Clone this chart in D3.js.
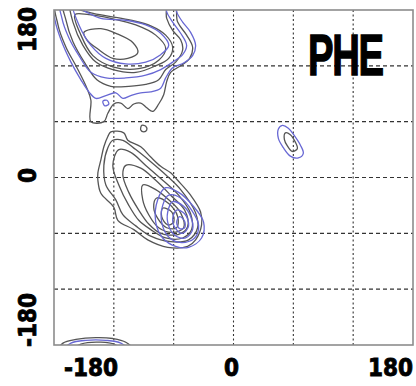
<!DOCTYPE html>
<html>
<head>
<meta charset="utf-8">
<script src="https://cdn.jsdelivr.net/npm/d3@7"></script>
<style>
  html, body { margin: 0; padding: 0; background: #fff; }
  svg { display: block; }
</style>
</head>
<body>
<svg id="chart" width="416" height="386"></svg>
<script>
// Ramachandran plot for PHE: phi (x) vs psi (y), contour rings in degrees.
const residue = "PHE";
const phiLabels = [-180, 0, 180];
const psiLabels = [-180, 0, 180];
const gridValues = [-120, -60, 0, 60, 120];

// beta / PPII region (upper left), gray contour set
const betaGray = [
  [[-177,191],[-176,164],[-168,140],[-157,118],[-147,96],[-143,83],[-143,60],[-130,60],[-126,69],[-120,79],[-113,80],[-106,74],[-100,79],[-93,80],[-87,75],[-81,71],[-75,79],[-70,89],[-67,103],[-63,113],[-53,120],[-44,128],[-41,140],[-47,153],[-56,167],[-61,191]],
  [[-170,191],[-168,169],[-161,146],[-149,123],[-137,105],[-123,98],[-105,98],[-88,100],[-75,105],[-68,116],[-58,124],[-51,137],[-53,148],[-61,158],[-67,171],[-70,191]],
  [[-165,191],[-161,167],[-151,142],[-138,124],[-121,116],[-98,113],[-78,120],[-65,128],[-61,140],[-68,153],[-83,163],[-103,169],[-123,173],[-143,177],[-158,182]],
  [[-159,175],[-153,153],[-141,131],[-121,119],[-95,117],[-75,126],[-68,139],[-78,153],[-98,164],[-123,171],[-145,175]],
  [[-150,156],[-133,160],[-116,154],[-101,145],[-96,134],[-106,128],[-121,128],[-136,138],[-147,148]],
  [[-92,56],[-88,55],[-87,51],[-90,49],[-93,51]]
];
// beta region, blue contour set
const betaBlue = [
  [[-180,191],[-179,169],[-173,148],[-163,124],[-153,105],[-145,92],[-138,85],[-128,88],[-118,91],[-111,85],[-103,88],[-93,91],[-83,92],[-73,96],[-68,107],[-61,118],[-50,123],[-41,131],[-38,142],[-43,156],[-51,167],[-57,178],[-59,191]],
  [[-173,191],[-172,171],[-165,150],[-155,131],[-143,113],[-128,107],[-108,107],[-88,110],[-73,116],[-61,124],[-51,132],[-47,142],[-53,155],[-61,167],[-67,178],[-68,191]],
  [[-161,185],[-155,164],[-143,142],[-128,128],[-108,122],[-88,124],[-73,132],[-65,142],[-73,155],[-88,164],[-108,169],[-133,171],[-148,178]],
  [[-131,82],[-127,83],[-125,79],[-129,77]]
];
// right-handed helix region, gray set
const alphaGray = [
  [[-123,49],[-110,48],[-106,40],[-93,33],[-83,22],[-73,12],[-63,5],[-56,-3],[-43,-19],[-33,-37],[-32,-51],[-38,-67],[-46,-74],[-66,-75],[-86,-67],[-100,-56],[-116,-46],[-120,-32],[-133,-17],[-136,-3],[-136,5],[-133,19],[-130,33],[-126,44]],
  [[-121,40],[-111,40],[-98,30],[-83,17],[-68,3],[-53,-13],[-38,-38],[-36,-54],[-45,-67],[-63,-69],[-83,-63],[-98,-52],[-111,-40],[-118,-24],[-128,-8],[-130,13],[-126,32]],
  [[-115,30],[-103,27],[-88,13],[-73,-1],[-55,-19],[-43,-39],[-42,-56],[-51,-65],[-68,-65],[-83,-56],[-95,-46],[-105,-30],[-115,-8],[-121,13]],
  [[-108,13],[-93,10],[-78,-3],[-63,-19],[-49,-35],[-46,-53],[-55,-61],[-73,-60],[-85,-50],[-95,-35],[-105,-16],[-111,3]],
  [[-91,-8],[-78,-13],[-65,-24],[-53,-38],[-50,-54],[-61,-59],[-75,-54],[-85,-40],[-91,-24]],
  [[-77,-22],[-65,-28],[-56,-42],[-57,-54],[-67,-54],[-76,-44],[-80,-32]],
  [[-71,-33],[-62,-37],[-60,-48],[-66,-51],[-72,-42]]
];
// right-handed helix region, blue set
const alphaBlue = [
  [[-68,-11],[-55,-16],[-41,-30],[-30,-48],[-32,-65],[-45,-75],[-58,-74],[-71,-65],[-78,-48],[-76,-24]],
  [[-65,-19],[-53,-22],[-42,-35],[-35,-51],[-39,-65],[-52,-70],[-65,-64],[-72,-48],[-71,-30]],
  [[-61,-26],[-50,-31],[-43,-42],[-41,-56],[-48,-65],[-59,-62],[-66,-48],[-65,-33]],
  [[-57,-35],[-49,-39],[-45,-52],[-51,-60],[-58,-55],[-61,-44]],
  [[-54,-42],[-49,-47],[-49,-54],[-54,-55],[-57,-48]]
];
// left-handed helix region
const leftGray = [
  [[52,48],[57,46],[62,38],[64,31],[59,28],[54,34],[51,41]]
];
const leftBlue = [
  [[49,56],[55,53],[61,45],[67,35],[70,26],[65,21],[57,23],[50,32],[45,42],[45,52]]
];
// beta region wrapping past psi = -180
const wrapGray = [
  [[-176,-186],[-171,-178],[-158,-174],[-138,-172],[-121,-173],[-108,-177],[-100,-186]],
  [[-163,-186],[-153,-179],[-133,-177],[-118,-180],[-113,-186]]
];
const wrapBlue = [
  [[-171,-186],[-163,-178],[-148,-175],[-128,-175],[-113,-178],[-105,-186]]
];

const grayColor = "#555555";
const blueColor = "#6868d4";

const svg = d3.select("#chart");
const plotLeft = 54, plotRight = 413, plotTop = 10, plotBottom = 345;
const x = d3.scaleLinear().domain([-180, 180]).range([plotLeft, plotRight]);
const y = d3.scaleLinear().domain([-180, 180]).range([plotBottom, plotTop]);

svg.append("defs").append("clipPath").attr("id", "plotClip")
  .append("rect").attr("x", plotLeft).attr("y", plotTop)
  .attr("width", plotRight - plotLeft).attr("height", plotBottom - plotTop);

// dashed grid
const grid = svg.append("g");
grid.selectAll("line.v").data(gridValues).join("line")
  .attr("class", "v")
  .attr("x1", d => x(d)).attr("x2", d => x(d))
  .attr("y1", plotTop).attr("y2", plotBottom)
  .attr("stroke", "#333").attr("stroke-width", 1.1)
  .attr("stroke-dasharray", "2,2.5");
grid.selectAll("line.h").data(gridValues).join("line")
  .attr("class", "h")
  .attr("y1", d => y(d)).attr("y2", d => y(d))
  .attr("x1", plotLeft).attr("x2", plotRight)
  .attr("stroke", "#333").attr("stroke-width", 1.1)
  .attr("stroke-dasharray", "4,3");

// contours
const ring = d3.line()
  .x(d => x(d[0])).y(d => y(d[1]))
  .curve(d3.curveCatmullRomClosed.alpha(0.5));

const contours = svg.append("g").attr("clip-path", "url(#plotClip)")
  .attr("fill", "none").attr("stroke-width", 1.3).attr("stroke-linejoin", "round");

function drawSet(rings, color) {
  contours.append("g").attr("stroke", color)
    .selectAll("path").data(rings).join("path")
    .attr("d", ring);
}
drawSet(betaGray, grayColor);
drawSet(alphaGray, grayColor);
drawSet(leftGray, grayColor);
drawSet(wrapGray, grayColor);
drawSet(betaBlue, blueColor);
drawSet(alphaBlue, blueColor);
drawSet(leftBlue, blueColor);
drawSet(wrapBlue, blueColor);

// frame
svg.append("rect")
  .attr("x", plotLeft).attr("y", plotTop)
  .attr("width", plotRight - plotLeft).attr("height", plotBottom - plotTop)
  .attr("fill", "none").attr("stroke", "#8c8c8c").attr("stroke-width", 1.6);

// axis labels
const labelFont = "'DejaVu Sans Condensed', 'DejaVu Sans', sans-serif";
const xAnchor = d => d < 0 ? "start" : d > 0 ? "end" : "middle";
const xShift = d => d < 0 ? 10 : d > 0 ? 0 : -2;
svg.append("g").selectAll("text").data(phiLabels).join("text")
  .attr("x", d => x(d) + xShift(d))
  .attr("y", 376)
  .attr("text-anchor", xAnchor)
  .attr("font-family", labelFont).attr("font-weight", "bold")
  .attr("font-size", 24)
  .attr("stroke", "#000").attr("stroke-width", 0.8)
  .text(d => d);

const yAnchor = d => d < 0 ? "start" : d > 0 ? "end" : "middle";
const yShift = d => d < 0 ? 2 : d > 0 ? -3 : -2;
svg.append("g").selectAll("text").data(psiLabels).join("text")
  .attr("transform", d => `translate(36,${y(d) + yShift(d)}) rotate(-90)`)
  .attr("text-anchor", yAnchor)
  .attr("font-family", labelFont).attr("font-weight", "bold")
  .attr("font-size", 24)
  .attr("stroke", "#000").attr("stroke-width", 0.8)
  .text(d => d);

// residue name, squeezed horizontally
svg.append("text")
  .attr("transform", "translate(308,75) scale(0.66,1)")
  .attr("font-family", "'Liberation Sans Narrow', 'Liberation Sans', sans-serif")
  .attr("font-weight", "bold")
  .attr("font-size", 58)
  .attr("letter-spacing", -2)
  .attr("stroke", "#000").attr("stroke-width", 1.4)
  .text(residue);
</script>
</body>
</html>
